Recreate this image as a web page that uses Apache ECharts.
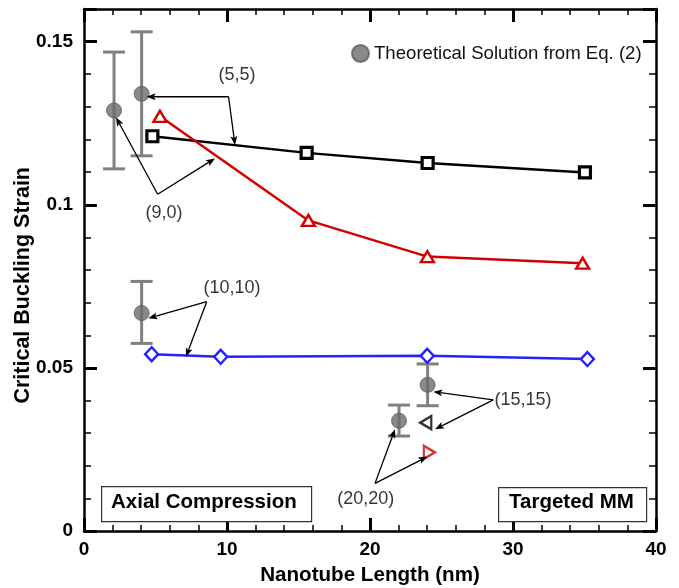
<!DOCTYPE html>
<html>
<head>
<meta charset="utf-8">
<script src="https://cdn.jsdelivr.net/npm/echarts@6/dist/echarts.min.js"></script>
<style>html,body{margin:0;padding:0;background:#fff;}#c{width:679px;height:588px;}</style>
</head>
<body>
<div id="c"></div>
<script>
// (5,5) - black squares
const sqX = [4.78, 15.57, 24.03, 35.03];
const sqY = [0.1210, 0.1159, 0.1128, 0.1099];
// (9,0) - red triangles
const triX = [5.31, 15.69, 24.01, 34.87];
const triY = [0.1271, 0.0952, 0.0841, 0.0821];
// (10,10) - blue diamonds
const diaX = [4.73, 9.56, 24.0, 35.2];
const diaY = [0.0542, 0.0534, 0.0537, 0.0527];
// Theoretical solution with error bars
const theoX  = [2.1, 4.03, 4.03, 24.03, 22.03];
const theoY  = [0.1289, 0.1340, 0.0668, 0.0448, 0.0338];
const theoHi = [0.1468, 0.1530, 0.0765, 0.0512, 0.0386];
const theoLo = [0.1110, 0.1150, 0.0575, 0.0384, 0.0291];
// (15,15) single point (black) and (20,20) single point (red)
const p1515 = [23.9, 0.0332];
const p2020 = [24.15, 0.0241];
// annotation labels [x, y, text]
const annLabels = [[10.7, 0.1398, '(5,5)'], [5.6, 0.0975, '(9,0)'], [10.35, 0.0745, '(10,10)'], [30.7, 0.0400, '(15,15)'], [19.7, 0.0097, '(20,20)']];
// arrows [fromX, fromY, toX, toY]
const arrows = [
  [10.11, 0.1331, 4.38, 0.1331], [10.11, 0.1331, 10.56, 0.1183],
  [5.15, 0.1032, 2.24, 0.1268], [5.15, 0.1032, 9.16, 0.1142],
  [8.58, 0.0703, 4.50, 0.0652], [8.58, 0.0703, 7.13, 0.0534],
  [28.62, 0.0402, 24.43, 0.0427], [28.62, 0.0402, 24.55, 0.0312],
  [20.35, 0.0146, 21.75, 0.0312], [20.35, 0.0146, 24.01, 0.0228]
];
const xTicks = [0, 10, 20, 30, 40];
const yTicks = [0, 0.05, 0.1, 0.15];

const zip = (a, b) => a.map((v, i) => [v, b[i]]);
const FONT = 'Liberation Sans, Arial, sans-serif';

const chart = echarts.init(document.getElementById('c'), null, {renderer: 'canvas'});

const axisCommon = {
  axisLine: {show: true, onZero: false, lineStyle: {color: '#000', width: 2.5}},
  splitLine: {show: false},
};

const option = {
  backgroundColor: '#fff',
  animation: false,
  grid: {left: 84, right: 23, top: 9, bottom: 57, containLabel: false, outerBoundsMode: 'none'},
  legend: {
    data: ['Theoretical Solution from Eq. (2)'],
    left: 346, top: 39,
    icon: 'circle', itemWidth: 17, itemHeight: 17, itemGap: 4,
    textStyle: {fontFamily: FONT, fontSize: 18.6, color: '#111'}
  },
  xAxis: [{
    type: 'value', min: 0, max: 40, interval: 10, position: 'bottom',
    name: 'Nanotube Length (nm)', nameLocation: 'middle', nameGap: 34,
    nameTextStyle: {fontFamily: FONT, fontSize: 20.6, fontWeight: 'bold', color: '#000'},
    ...axisCommon,
    axisTick: {show: true, inside: true, length: 13, lineStyle: {color: '#000', width: 3}},
    minorTick: {show: true, splitNumber: 5, length: 6, lineStyle: {color: '#000', width: 1.5}},
    axisLabel: {fontFamily: FONT, fontSize: 19, fontWeight: 'bold', color: '#000', margin: 9,
      formatter: v => xTicks.includes(v) ? String(v) : ''}
  }, {
    type: 'value', min: 0, max: 40, interval: 10, position: 'top',
    ...axisCommon,
    axisTick: {show: true, inside: true, length: 13, lineStyle: {color: '#000', width: 3}},
    minorTick: {show: true, splitNumber: 5, length: 6, lineStyle: {color: '#000', width: 1.5}},
    axisLabel: {show: false}
  }],
  yAxis: [{
    type: 'value', min: 0, max: 0.16, interval: 0.05, position: 'left',
    ...axisCommon,
    axisTick: {show: true, inside: true, length: 13, lineStyle: {color: '#000', width: 3}},
    minorTick: {show: true, splitNumber: 5, length: 7, lineStyle: {color: '#000', width: 1.5}},
    axisLabel: {fontFamily: FONT, fontSize: 19, fontWeight: 'bold', color: '#000', margin: 11,
      showMaxLabel: false,
      formatter: v => { const t = yTicks.find(k => Math.abs(k - v) < 1e-9); return t === undefined ? '' : String(t); }}
  }, {
    type: 'value', min: 0, max: 0.16, interval: 0.05, position: 'right',
    ...axisCommon,
    axisTick: {show: true, inside: true, length: 13, lineStyle: {color: '#000', width: 3}},
    minorTick: {show: true, splitNumber: 5, length: 7, lineStyle: {color: '#000', width: 1.5}},
    axisLabel: {show: false}
  }],
  series: [
    {
      name: 'errbars', type: 'custom', xAxisIndex: 0, yAxisIndex: 0, silent: true, z: 2,
      data: theoX.map((x, i) => [x, theoLo[i], theoHi[i]]),
      renderItem: (params, api) => {
        const lo = api.coord([api.value(0), api.value(1)]);
        const hi = api.coord([api.value(0), api.value(2)]);
        const cw = 11;
        const st = {stroke: '#808080', lineWidth: 3};
        return {type: 'group', children: [
          {type: 'line', shape: {x1: lo[0], y1: lo[1], x2: hi[0], y2: hi[1]}, style: st},
          {type: 'line', shape: {x1: lo[0] - cw, y1: lo[1], x2: lo[0] + cw, y2: lo[1]}, style: st},
          {type: 'line', shape: {x1: hi[0] - cw, y1: hi[1], x2: hi[0] + cw, y2: hi[1]}, style: st}
        ]};
      }
    },
    {
      name: '(5,5)', type: 'line', data: zip(sqX, sqY), z: 3,
      symbol: 'rect', symbolSize: 11,
      lineStyle: {color: '#000', width: 2.5},
      itemStyle: {color: '#fff', borderColor: '#000', borderWidth: 3.2}
    },
    {
      name: '(9,0)', type: 'line', data: zip(triX, triY), z: 3,
      symbol: 'triangle', symbolSize: [13, 11],
      lineStyle: {color: '#d40000', width: 2.5},
      itemStyle: {color: '#fff', borderColor: '#d40000', borderWidth: 2.4}
    },
    {
      name: '(10,10)', type: 'line', data: zip(diaX, diaY), z: 3,
      symbol: 'diamond', symbolSize: [13, 14],
      lineStyle: {color: '#2222ff', width: 2.5},
      itemStyle: {color: '#fff', borderColor: '#2222ff', borderWidth: 2.4}
    },
    {
      name: '(15,15) single', type: 'scatter', data: [p1515], z: 3,
      symbol: 'triangle', symbolRotate: 90, symbolSize: [13, 11],
      itemStyle: {color: '#fff', borderColor: '#000', borderWidth: 2.4}
    },
    {
      name: '(20,20) single', type: 'scatter', data: [p2020], z: 3,
      symbol: 'triangle', symbolRotate: -90, symbolSize: [13, 11],
      itemStyle: {color: '#fff', borderColor: '#d40000', borderWidth: 2.4}
    },
    {
      name: 'Theoretical Solution from Eq. (2)', type: 'scatter', data: zip(theoX, theoY), z: 4,
      symbol: 'circle', symbolSize: 15,
      itemStyle: {color: '#6c6c6c', borderColor: '#5e5e5e', borderWidth: 1}
    },
    {
      name: 'arrows', type: 'custom', silent: true, z: 5,
      data: arrows,
      renderItem: (params, api) => {
        const a = api.coord([api.value(0), api.value(1)]);
        const b = api.coord([api.value(2), api.value(3)]);
        const dx = b[0] - a[0], dy = b[1] - a[1];
        const len = Math.hypot(dx, dy);
        const ux = dx / len, uy = dy / len;
        const hl = 9, hw = 3.5;
        const bx = b[0] - ux * hl, by = b[1] - uy * hl;
        return {type: 'group', children: [
          {type: 'line', shape: {x1: a[0], y1: a[1], x2: bx + ux * 2, y2: by + uy * 2},
            style: {stroke: '#000', lineWidth: 1.3}},
          {type: 'polygon', shape: {points: [[b[0], b[1]], [bx - uy * hw, by + ux * hw], [bx + ux * 2, by + uy * 2], [bx + uy * hw, by - ux * hw]]},
            style: {fill: '#000'}}
        ]};
      }
    },
    {
      name: 'labels', type: 'scatter', silent: true, z: 6,
      data: annLabels.map(a => ({value: [a[0], a[1]], name: a[2]})),
      symbolSize: 1, itemStyle: {color: 'rgba(0,0,0,0)'},
      label: {show: true, position: 'inside', formatter: p => p.name,
        fontFamily: FONT, fontSize: 18, color: '#000'}
    }
  ],
  graphic: [
    {type: 'text', left: 12, top: 167, rotation: Math.PI / 2, z: 11,
      style: {text: 'Critical Buckling Strain', fontFamily: FONT, fontSize: 21.5, fontWeight: 'bold', fill: '#000'}},
    {type: 'rect', left: 101, top: 486, shape: {width: 210, height: 35},
      style: {fill: '#fff', stroke: '#333', lineWidth: 1.2}, z: 10},
    {type: 'text', left: 111, top: 492, z: 11,
      style: {text: 'Axial Compression', fontFamily: FONT, fontSize: 20.5, fontWeight: 'bold', fill: '#000'}},
    {type: 'rect', left: 498, top: 487, shape: {width: 148, height: 34},
      style: {fill: '#fff', stroke: '#333', lineWidth: 1.2}, z: 10},
    {type: 'text', left: 509, top: 492, z: 11,
      style: {text: 'Targeted MM', fontFamily: FONT, fontSize: 20.5, fontWeight: 'bold', fill: '#000'}}
  ]
};
chart.setOption(option);
</script>
</body>
</html>
